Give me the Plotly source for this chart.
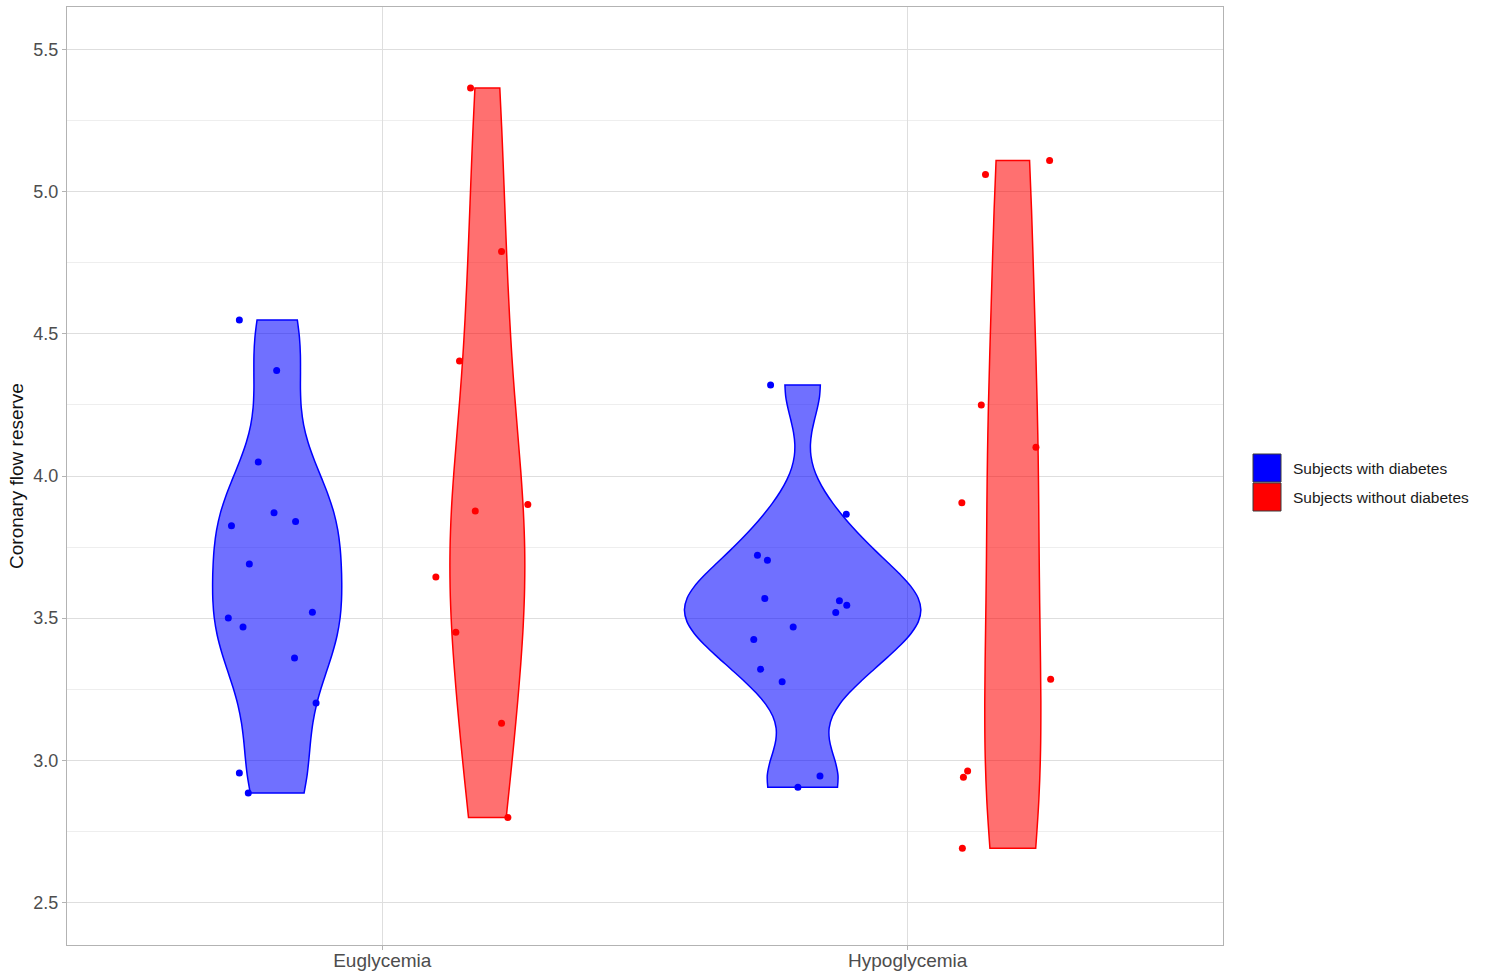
import numpy as np
import plotly.graph_objects as go

# ---------------- data ----------------
categories = ["Euglycemia", "Hypoglycemia"]
groups = ["Subjects with diabetes", "Subjects without diabetes"]
group_colors = ["#0000FF", "#FF0000"]
group_fills = ["rgba(0,0,255,0.56)", "rgba(255,0,0,0.56)"]

# Coronary flow reserve values
dm_eu = [4.549, 4.371, 4.049, 3.871, 3.840, 3.825, 3.690, 3.521, 3.500, 3.469, 3.360, 3.201, 2.955, 2.885]
nodm_eu = [5.365, 4.790, 4.405, 3.900, 3.877, 3.645, 3.450, 3.130, 2.799]
dm_hy = [4.320, 3.865, 3.721, 3.704, 3.569, 3.561, 3.545, 3.520, 3.469, 3.425, 3.320, 3.276, 2.945, 2.905]
nodm_hy = [5.110, 5.061, 4.250, 4.101, 3.906, 3.285, 2.962, 2.940, 2.690]

# horizontal jitter of the points
dm_eu_jit = [-0.072, -0.001, -0.036, -0.006, 0.035, -0.087, -0.053, 0.067, -0.093, -0.065, 0.033, 0.074, -0.072, -0.055]
nodm_eu_jit = [-0.032, 0.027, -0.053, 0.077, -0.023, -0.098, -0.060, 0.027, 0.039]
dm_hy_jit = [-0.061, 0.083, -0.086, -0.067, -0.072, 0.070, 0.084, 0.063, -0.018, -0.093, -0.080, -0.039, 0.033, -0.009]
nodm_hy_jit = [0.070, -0.052, -0.060, 0.044, -0.097, 0.072, -0.086, -0.094, -0.096]

series = {
    (0, 0): (dm_eu, dm_eu_jit),
    (0, 1): (nodm_eu, nodm_eu_jit),
    (1, 0): (dm_hy, dm_hy_jit),
    (1, 1): (nodm_hy, nodm_hy_jit),
}

y_ticks = [2.5, 3.0, 3.5, 4.0, 4.5, 5.0, 5.5]

# ---------------- helpers (ggplot-like violin scaling) ----------------
def bw_nrd0(v):
    v = np.asarray(v, float)
    sd = np.std(v, ddof=1)
    iqr = np.subtract(*np.percentile(v, [75, 25]))
    lo = min(sd, iqr / 1.34)
    if lo <= 0:
        lo = sd
    return 0.9 * lo * len(v) ** (-0.2)

def max_density(v, bw):
    v = np.asarray(v, float)
    grid = np.linspace(v.min(), v.max(), 512)
    d = np.exp(-0.5 * ((grid[:, None] - v[None, :]) / bw) ** 2).sum(axis=1)
    d /= (len(v) * bw * np.sqrt(2 * np.pi))
    return d.max()

dodge = 0.8
vwidth = 0.45
bws = {k: bw_nrd0(v[0]) for k, v in series.items()}
maxd = {k: max_density(series[k][0], bws[k]) for k in series}
gmax = max(maxd.values())

fig = go.Figure()

# violins
for (ci, gi), (vals, jit) in series.items():
    pos = (ci + 1) + dodge * ((gi + 0.5) / 2 - 0.5)
    fig.add_trace(go.Violin(
        y=vals, x0=pos, name=groups[gi], legendgroup=groups[gi], showlegend=False,
        width=vwidth * maxd[(ci, gi)] / gmax, scalemode="width",
        bandwidth=bws[(ci, gi)], spanmode="hard", points=False,
        fillcolor=group_fills[gi], line=dict(color=group_colors[gi], width=1.5),
        box_visible=False, meanline_visible=False, hoverinfo="skip",
    ))

# jittered points
for (ci, gi), (vals, jit) in series.items():
    pos = (ci + 1) + dodge * ((gi + 0.5) / 2 - 0.5)
    fig.add_trace(go.Scatter(
        x=[pos + j for j in jit], y=vals, mode="markers", showlegend=False,
        marker=dict(color=group_colors[gi], size=7, line=dict(width=0)),
        hoverinfo="skip",
    ))

# ---------------- layout ----------------
W, H = 1488, 975
L, R, T, B = 67, 265, 7, 30
plot_w = W - L - R
plot_h = H - T - B

def px_x(px):
    return (px - L) / plot_w

def px_y(py):
    return (H - B - py) / plot_h

shapes = []
annotations = []
key_top = 454
key_h = 29
for gi, name in enumerate(groups):
    y0 = key_top + gi * key_h
    shapes.append(dict(type="rect", xref="paper", yref="paper",
                       x0=px_x(1253), x1=px_x(1281), y0=px_y(y0 + key_h - 1), y1=px_y(y0),
                       fillcolor=group_colors[gi], line=dict(color="#3a3a3a", width=1)))
    annotations.append(dict(text=name, xref="paper", yref="paper", x=px_x(1291),
                            y=px_y(y0 + key_h / 2), xanchor="left", yanchor="middle",
                            showarrow=False, font=dict(size=15.5, color="#1a1a1a")))

fig.update_layout(
    width=W, height=H,
    margin=dict(l=L, r=R, t=T, b=B, pad=0, autoexpand=False),
    paper_bgcolor="white", plot_bgcolor="white",
    font=dict(family="Liberation Sans, Arial, sans-serif", color="#4D4D4D"),
    violinmode="overlay",
    showlegend=False,
    shapes=shapes,
    annotations=annotations,
    xaxis=dict(
        type="linear", range=[0.4, 2.6], tickvals=[1, 2], ticktext=categories,
        showgrid=True, gridcolor="#DEDEDE", gridwidth=1, zeroline=False,
        showline=True, mirror=True, linecolor="#B3B3B3", linewidth=1.2,
        ticks="outside", ticklen=4, tickcolor="#B3B3B3", tickwidth=1,
        tickfont=dict(size=19, color="#4D4D4D"), automargin=False,
        ticklabelstandoff=-6,
    ),
    yaxis=dict(
        range=[2.35, 5.65], tickvals=y_ticks, ticktext=[f"{t:.1f}" for t in y_ticks],
        showgrid=True, gridcolor="#DEDEDE", gridwidth=1, zeroline=False,
        minor=dict(tick0=2.25, dtick=0.5, showgrid=True, gridcolor="#EEEEEE", gridwidth=1, ticks=""),
        showline=True, mirror=True, linecolor="#B3B3B3", linewidth=1.2,
        ticks="outside", ticklen=4, tickcolor="#B3B3B3", tickwidth=1,
        tickfont=dict(size=18, color="#4D4D4D"), automargin=False,
        title=dict(text="Coronary flow reserve", font=dict(size=19, color="#111111"), standoff=4),
    ),
)

fig.write_html("out.html", config={"displayModeBar": False},
               post_script="document.body.style.margin='0';document.body.style.overflow='hidden';")
